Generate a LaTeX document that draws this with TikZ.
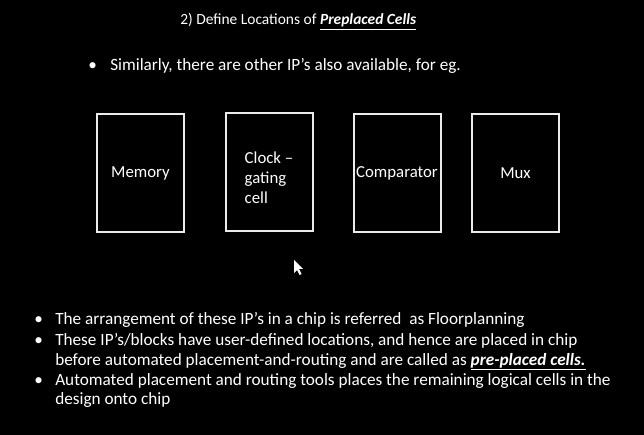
\documentclass[tikz,border=0pt]{standalone}
\usepackage{fontspec}
\setmainfont{Carlito}
\tikzset{
  px/.style={x=0.75pt,y=-0.75pt},
  txt/.style={text=white,inner sep=0pt,anchor=base west,font=\fontsize{12.9}{15}\selectfont},
  ipblock/.style={draw=white!92!black,line width=1.5pt,minimum width=65.25pt,minimum height=88.5pt,
    text=white,font=\fontsize{12.6}{15}\selectfont,align=left,inner sep=0pt}
}
\newcommand{\keyword}[1]{\underline{\textbf{\textit{#1}}}}

\begin{document}
\begin{tikzpicture}[px]
	\fill[black] (0,0) rectangle (644,435);
	\useasboundingbox (0,0) rectangle (644,435);
	% title
	\node[txt,font=\fontsize{11.6}{14}\selectfont] (title) at (180,25) {2) Define Locations of \keyword{Preplaced Cells}};
	% intro
	\node[txt] (b0) at (88,71) {\textbullet};
	\node[txt] (intro) at (110,71) {Similarly, there are other IP’s also available, for eg.};
	% blocks
	\node[ipblock] (mem) at (140.5,173) {Memory};
	\node[ipblock] (clk) at (269,172) {\rule{0pt}{17pt}Clock –\\gating\\cell};
	\node[ipblock] (cmp) at (397,173) {Comparator};
	\node[ipblock] (mux) at (515.5,173) {Mux};
	% pointer
	\fill[white] (294,260) -- (294,273) -- (297,270) -- (299.5,275) -- (301.5,274) -- (299,269) -- (303,269) -- cycle;
	% notes
	\node[txt] (b1) at (34,325) {\textbullet};
	\node[txt] (n1) at (55,325) {The arrangement of these IP’s in a chip is referred\ \ as Floorplanning};
	\node[txt] (b2) at (34,345) {\textbullet};
	\node[txt] (n2) at (55,345) {These IP’s/blocks have user-defined locations, and hence are placed in chip};
	\node[txt] (n2b) at (55,365) {before automated placement-and-routing and are called as \keyword{pre-placed cells.}};
	\node[txt] (b3) at (34,385) {\textbullet};
	\node[txt] (n3) at (55,385) {Automated placement and routing tools places the remaining logical cells in the};
	\node[txt] (n3b) at (55,405) {design onto chip};
\end{tikzpicture}
\end{document}
